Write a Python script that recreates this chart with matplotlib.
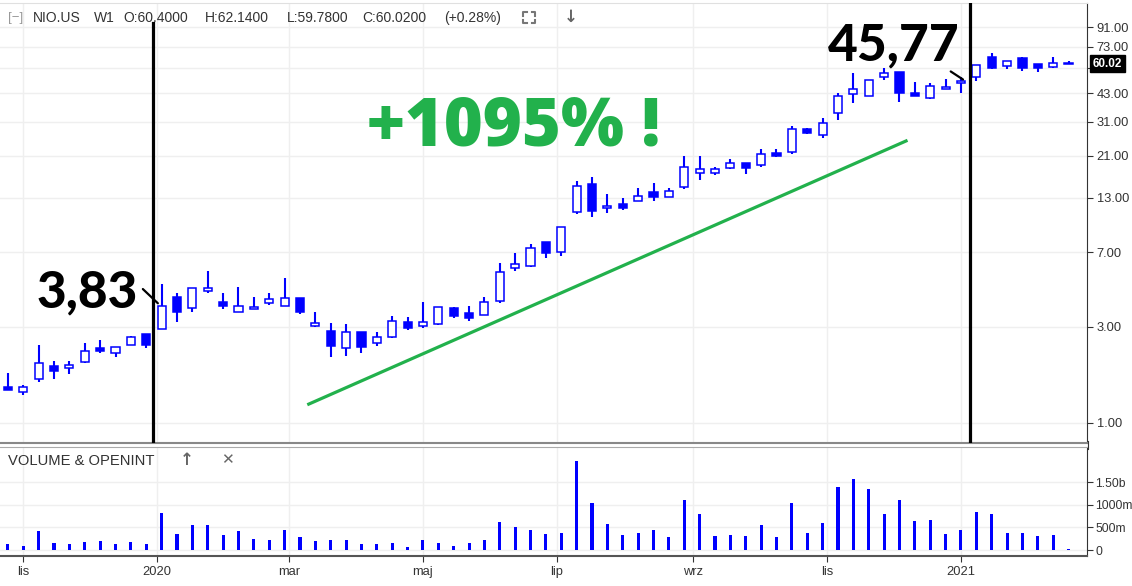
import matplotlib
matplotlib.use("Agg")
import matplotlib.pyplot as plt
from matplotlib.lines import Line2D
import pandas as pd

# weekly NIO.US candles
first_week = "2019-10-25"
opens = [1.51, 1.42, 1.66, 1.92, 1.87, 2.00, 2.36, 2.21, 2.43, 2.75,
         2.93, 4.22, 3.70, 4.50, 3.99, 3.53, 3.66, 3.91, 3.79, 4.14,
         3.02, 2.86, 2.34, 2.83, 2.48, 2.68, 3.17, 3.02, 3.08, 3.72,
         3.52, 3.43, 4.02, 5.83, 5.99, 7.90, 7.00, 11.12, 15.25, 11.55,
         12.10, 12.56, 13.97, 13.10, 14.78, 17.22, 17.22, 18.23, 19.30, 18.94,
         21.79, 21.89, 28.45, 26.66, 34.14, 42.54, 41.70, 51.45, 54.83, 43.18,
         40.50, 44.89, 48.06, 51.45, 65.05, 58.70, 64.30, 59.70, 57.70, 60.40]
highs = [1.77, 1.54, 2.44, 2.03, 2.03, 2.48, 2.58, 2.39, 2.69, 2.75,
         4.86, 4.39, 4.66, 5.66, 4.39, 4.70, 4.19, 4.39, 5.20, 4.14,
         3.53, 3.12, 3.08, 2.83, 2.81, 3.39, 3.36, 3.99, 3.77, 3.77,
         3.79, 4.19, 6.22, 6.92, 7.67, 7.90, 9.37, 15.78, 16.46, 13.56,
         12.95, 14.52, 15.37, 14.62, 20.98, 20.98, 18.57, 20.20, 19.44, 22.64,
         22.64, 29.53, 28.77, 32.23, 43.18, 54.20, 49.90, 57.00, 54.83, 48.60,
         48.06, 50.30, 51.80, 59.20, 67.60, 62.20, 65.05, 59.70, 64.60, 62.14]
lows = [1.46, 1.37, 1.59, 1.66, 1.74, 1.98, 2.21, 2.12, 2.43, 2.34,
        2.92, 3.17, 3.53, 4.39, 3.68, 3.53, 3.66, 3.84, 3.79, 3.45,
        3.00, 2.13, 2.15, 2.21, 2.41, 2.63, 2.89, 2.94, 3.06, 3.30,
        3.21, 3.43, 3.94, 5.68, 5.95, 6.54, 6.73, 10.80, 10.43, 10.92,
        11.33, 12.56, 12.60, 13.10, 14.35, 15.96, 16.90, 18.08, 17.03, 18.57,
        20.80, 21.39, 26.86, 25.67, 31.62, 38.50, 41.70, 49.90, 38.70, 41.70,
        40.05, 44.89, 42.88, 49.50, 56.35, 56.35, 55.50, 54.50, 57.00, 59.78]
closes = [1.46, 1.51, 1.98, 1.80, 1.94, 2.28, 2.27, 2.39, 2.68, 2.43,
          3.81, 3.53, 4.64, 4.64, 3.79, 3.81, 3.75, 4.10, 4.14, 3.53,
          3.14, 2.41, 2.83, 2.39, 2.68, 3.21, 2.94, 3.16, 3.77, 3.40,
          3.30, 3.99, 5.61, 6.11, 7.33, 6.92, 9.37, 14.95, 11.25, 11.91,
          11.64, 13.35, 13.10, 14.13, 18.44, 18.03, 18.03, 19.30, 18.36, 21.39,
          20.98, 28.45, 27.36, 30.45, 41.57, 44.89, 49.90, 54.20, 43.18, 41.70,
          46.75, 46.20, 49.33, 59.20, 57.00, 62.20, 57.40, 57.00, 60.35, 60.02]
volumes_m = [123, 94, 413, 145, 123, 174, 196, 123, 174, 123,
             819, 362, 558, 558, 341, 413, 254, 225, 442, 283,
             196, 225, 225, 123, 123, 145, 65, 225, 145, 94,
             145, 225, 609, 500, 442, 362, 384, 1957, 1036, 580,
             333, 384, 435, 283, 1094, 797, 304, 333, 304, 551,
             283, 1036, 384, 601, 1391, 1558, 1341, 797, 1094, 630,
             659, 362, 435, 848, 797, 384, 384, 304, 333, 15]

price_ticks = [1, 3, 7, 13, 21, 31, 43, 57, 73, 91]
price_labels = ["1.00", "3.00", "7.00", "13.00", "21.00", "31.00", "43.00", "", "73.00", "91.00"]
vol_ticks = [0, 500, 1000, 1500]
vol_labels = ["0", "500m", "1000m", "1.50b"]
month_ticks = ["2019-11-01", "2020-01-01", "2020-03-01", "2020-05-01",
               "2020-07-01", "2020-09-01", "2020-11-01", "2021-01-01"]
month_labels = ["lis", "2020", "mar", "maj", "lip", "wrz", "lis", "2021"]

header_items = ["NIO.US", "W1", "O:60.4000", "H:62.1400", "L:59.7800", "C:60.0200", "(+0.28%)"]
header_x = [33, 94, 123, 205, 287, 362, 444]

last_price = 60.02
year_lines = ["2019-12-30", "2021-01-05"]
trend_dates = ["2020-03-10", "2020-12-07"]
trend_prices = [1.24, 24.9]
start_idx, start_price = 10, 3.83
end_idx, end_price = 62, 45.77

BLUE = "#0000ff"
GREEN = "#22b14c"
TXT = "#333333"
SANS = "Liberation Sans"

dates = pd.date_range(first_week, periods=len(opens), freq="7D")
day = pd.Timedelta(days=1)

fig = plt.figure(figsize=(11.32, 5.86), dpi=100)
W, H = 1132.0, 586.0
ax = fig.add_axes([0, 1 - 443 / H, 1087 / W, 440 / H])
axv = fig.add_axes([0, 1 - 556 / H, 1087 / W, 109 / H], sharex=ax)

# candles
for d, o, h, l, c in zip(dates, opens, highs, lows, closes):
    up = c >= o
    ax.vlines(d, l, h, color=BLUE, lw=1.5, zorder=2)
    lo, hi = min(o, c), max(o, c)
    hgt = max(hi - lo, lo * 0.004)
    ax.bar(d, hgt, bottom=lo, width=3.7, color="white" if up else BLUE,
           edgecolor=BLUE, lw=1.1, zorder=3)

ax.set_yscale("log")
ax.set_ylim(0.796, 120)
ax.set_xlim(dates[0] - 3.6 * day, dates[0] + 491.4 * day)
ax.yaxis.set_major_locator(matplotlib.ticker.FixedLocator(price_ticks))
ax.yaxis.set_major_formatter(matplotlib.ticker.FixedFormatter(price_labels))
ax.yaxis.set_minor_locator(matplotlib.ticker.NullLocator())
ax.yaxis.tick_right()
ax.tick_params(axis="y", labelsize=9.3, colors=TXT, length=4, pad=3, labelfontfamily=SANS)
ax.tick_params(axis="x", length=0, labelbottom=False)
ax.set_xticks(pd.to_datetime(month_ticks))
ax.grid(True, color="#efefef", lw=1, zorder=0)
ax.set_axisbelow(True)
ax.spines["left"].set_visible(False)
ax.spines["top"].set_color("#e0e0e0")
ax.spines["right"].set_color(TXT)
ax.spines["bottom"].set_color("#888888")
ax.spines["bottom"].set_linewidth(1.5)

# year separators
ax.axvline(pd.Timestamp(year_lines[0]), ymin=0.005, ymax=0.955, color="black", lw=2.3, zorder=4)
ax.axvline(pd.Timestamp(year_lines[1]), ymin=0.005, ymax=1.0, color="black", lw=2.3, zorder=4)

# trend line
ax.plot(pd.to_datetime(trend_dates), trend_prices, color=GREEN, lw=2.3, zorder=4)

# annotations
big = dict(family=["Lato", "DejaVu Sans"], fontweight="black", color="black")
ax.annotate("", xy=(dates[start_idx] - 0.8 * day, start_price), xytext=(-13.7, 13),
            textcoords="offset points", arrowprops=dict(arrowstyle="-", color="black", lw=1.6))
ax.annotate("3,83", xy=(dates[start_idx] - 0.8 * day, start_price), xytext=(-15.5, -1.5),
            textcoords="offset points", ha="right", va="baseline", fontsize=37, **big)
ax.annotate("", xy=(dates[end_idx] + 2 * day, 49.3), xytext=(-12.2, 8),
            textcoords="offset points", arrowprops=dict(arrowstyle="-", color="black", lw=1.6))
ax.annotate("45,77", xy=(dates[end_idx] + 2 * day, 49.3), xytext=(-4.5, 15),
            textcoords="offset points", ha="right", va="baseline", fontsize=37, **big)
ax.text(514 / 1087, (443 - 145) / 440, "+1095% !", transform=ax.transAxes,
        ha="center", va="baseline", fontsize=48, color=GREEN,
        family=["Open Sans", "DejaVu Sans"], fontweight="heavy")

# last price box
ax.annotate(f"{last_price:.2f}", xy=(1.0, last_price), xycoords=("axes fraction", "data"),
            xytext=(4, 0), textcoords="offset points", va="center", ha="left",
            fontsize=8.5, color="white", fontweight="bold", family=SANS, annotation_clip=False,
            bbox=dict(boxstyle="square,pad=0.22", fc="black", ec="black"), zorder=10)

# volume panel
axv.bar(dates, volumes_m, width=1.4, color=BLUE, zorder=3)
axv.set_ylim(-132, 2274)
axv.yaxis.set_major_locator(matplotlib.ticker.FixedLocator(vol_ticks))
axv.yaxis.set_major_formatter(matplotlib.ticker.FixedFormatter(vol_labels))
axv.yaxis.tick_right()
axv.tick_params(axis="y", labelsize=8.7, colors=TXT, length=4, pad=2, labelfontfamily=SANS)
axv.set_xticks(pd.to_datetime(month_ticks))
axv.set_xticklabels(month_labels)
axv.tick_params(axis="x", labelsize=9.3, colors=TXT, length=4, pad=3, labelfontfamily=SANS)
axv.grid(True, color="#efefef", lw=1, zorder=0)
axv.set_axisbelow(True)
axv.spines["left"].set_visible(False)
axv.spines["top"].set_color("#aaaaaa")
axv.spines["right"].set_color(TXT)
axv.spines["bottom"].set_color("#555555")
axv.spines["bottom"].set_linewidth(1.5)


def fx(x):
    return x / W


def fy(y):
    return 1 - y / H


# right axis line through the gap between panels
fig.add_artist(Line2D([fx(1087.5), fx(1087.5)], [fy(441), fy(449)], color=TXT, lw=0.8))

fig.text(fx(8), fy(18), "[\u2212]", fontsize=9.5, color="#999999", va="center", family=SANS)
for item, x in zip(header_items, header_x):
    fig.text(fx(x), fy(18), item, fontsize=10, color=TXT, va="center", family=SANS)
fig.text(fx(564), fy(17), "\u2193", fontsize=12, color="#666666", va="center", fontweight="bold")
# fullscreen icon corners
x0, y0, x1, y1, k = 523, 12, 535, 23, 3.5
for cx, cy, sx, sy in [(x0, y0, 1, 1), (x1, y0, -1, 1), (x0, y1, 1, -1), (x1, y1, -1, -1)]:
    fig.add_artist(Line2D([fx(cx + sx * k), fx(cx), fx(cx)], [fy(cy), fy(cy), fy(cy + sy * k)],
                          color="#777777", lw=1.5))

fig.text(fx(8), fy(461), "VOLUME & OPENINT", fontsize=10.6, color=TXT, va="center", family=SANS)
fig.text(fx(180), fy(460), "\u2191", fontsize=12, color="#666666", va="center", fontweight="bold")
fig.text(fx(221), fy(460), "\u2715", fontsize=11, color="#666666", va="center", fontweight="bold")

fig.savefig("out.png", dpi=100)
